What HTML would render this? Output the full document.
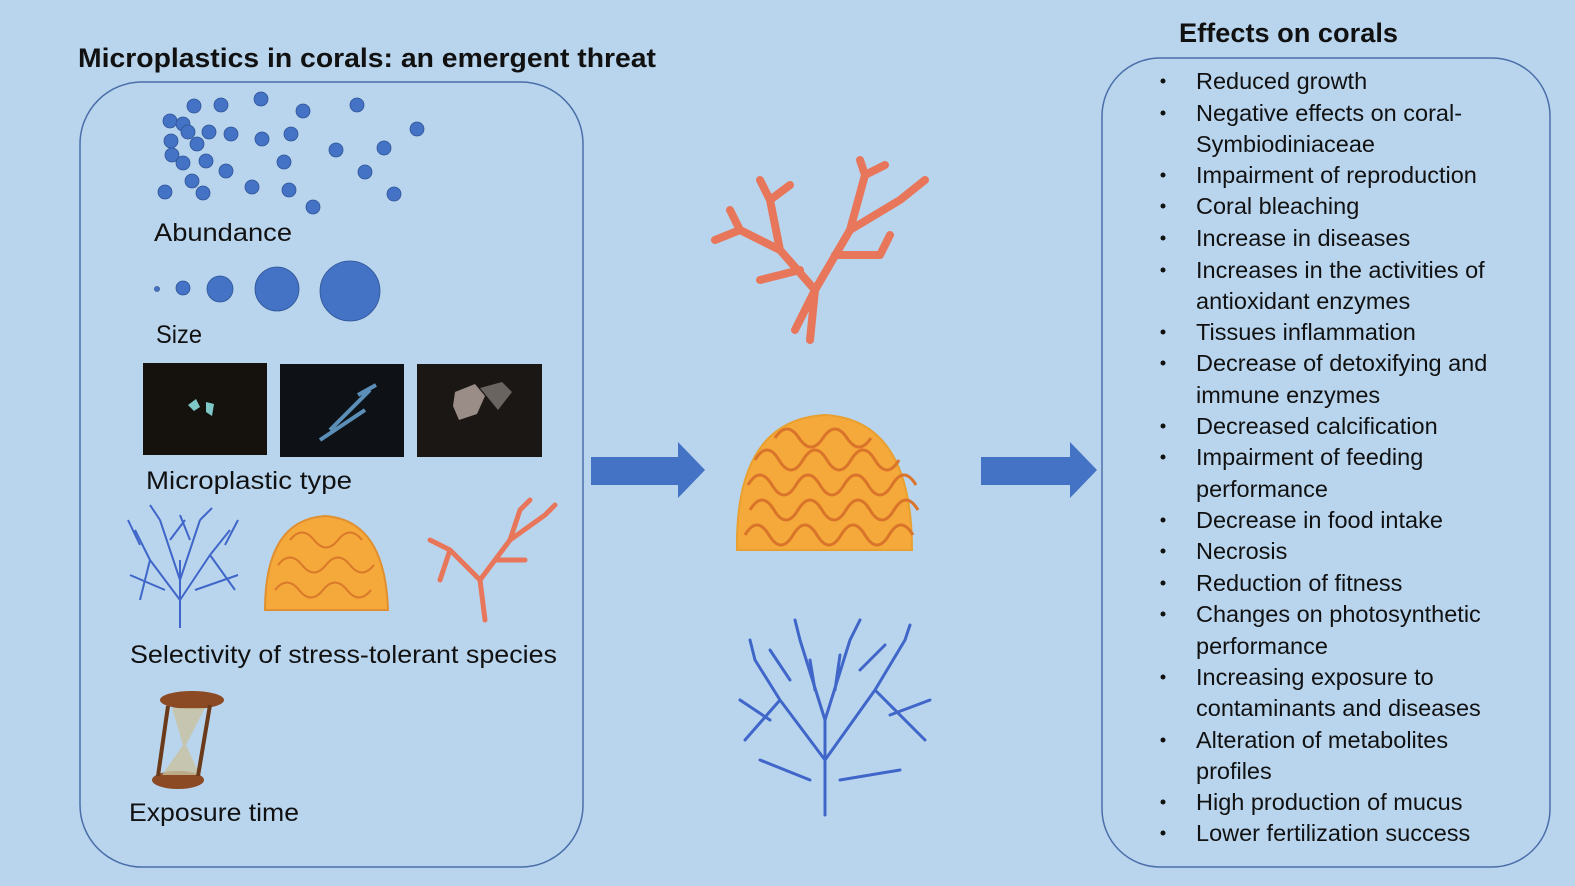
<!DOCTYPE html>
<html><head><meta charset="utf-8"><style>
body{margin:0;width:1575px;height:886px;overflow:hidden;background:#b9d5ee;font-family:"Liberation Sans",sans-serif}
svg{display:block}
text{font-family:"Liberation Sans",sans-serif;fill:#111}
</style></head><body>
<svg width="1575" height="886" viewBox="0 0 1575 886">
<rect width="1575" height="886" fill="#b9d5ee"/>
<text x="78" y="67" font-size="27" font-weight="bold" textLength="578" lengthAdjust="spacingAndGlyphs">Microplastics in corals: an emergent threat</text>
<text x="1179" y="42" font-size="27" font-weight="bold" textLength="219" lengthAdjust="spacingAndGlyphs">Effects on corals</text>
<rect x="80" y="82" width="503" height="785" rx="62" fill="none" stroke="#4a6ea8" stroke-width="1.5"/>
<rect x="1102" y="58" width="448" height="809" rx="58" fill="none" stroke="#4a6ea8" stroke-width="1.5"/>
<g fill="#4472c4" stroke="#2f5597" stroke-width="0.8">
<circle cx="194" cy="106" r="7"/><circle cx="221" cy="105" r="7"/><circle cx="261" cy="99" r="7"/><circle cx="303" cy="111" r="7"/><circle cx="357" cy="105" r="7"/><circle cx="170" cy="121" r="7"/><circle cx="183" cy="124" r="7"/><circle cx="188" cy="132" r="7"/><circle cx="209" cy="132" r="7"/><circle cx="231" cy="134" r="7"/><circle cx="262" cy="139" r="7"/><circle cx="291" cy="134" r="7"/><circle cx="417" cy="129" r="7"/><circle cx="171" cy="141" r="7"/><circle cx="197" cy="144" r="7"/><circle cx="336" cy="150" r="7"/><circle cx="384" cy="148" r="7"/><circle cx="172" cy="155" r="7"/><circle cx="183" cy="163" r="7"/><circle cx="206" cy="161" r="7"/><circle cx="284" cy="162" r="7"/><circle cx="365" cy="172" r="7"/><circle cx="226" cy="171" r="7"/><circle cx="192" cy="181" r="7"/><circle cx="252" cy="187" r="7"/><circle cx="289" cy="190" r="7"/><circle cx="165" cy="192" r="7"/><circle cx="203" cy="193" r="7"/><circle cx="313" cy="207" r="7"/><circle cx="394" cy="194" r="7"/>
<circle cx="157" cy="289" r="2.5"/><circle cx="183" cy="288" r="7"/><circle cx="220" cy="289" r="13"/><circle cx="277" cy="289" r="22"/><circle cx="350" cy="291" r="30"/>
</g>
<g font-size="25">
<text x="154" y="241" textLength="138" lengthAdjust="spacingAndGlyphs">Abundance</text>
<text x="156" y="343" textLength="46" lengthAdjust="spacingAndGlyphs">Size</text>
<text x="146" y="489" textLength="206" lengthAdjust="spacingAndGlyphs">Microplastic type</text>
<text x="130" y="663" textLength="427" lengthAdjust="spacingAndGlyphs">Selectivity of stress-tolerant species</text>
<text x="129" y="821" textLength="170" lengthAdjust="spacingAndGlyphs">Exposure time</text>
</g>
<rect x="143" y="363" width="124" height="92" fill="#15120e"/>
<rect x="280" y="364" width="124" height="93" fill="#0e1216"/>
<rect x="417" y="364" width="125" height="93" fill="#1a1714"/>
<path d="M188 405l8-6 4 8-6 4zM206 402l8 2-2 12-6-4z" fill="#7fc8c8"/>
<path d="M320 440l45-30M330 430l40-40M358 395l18-10" stroke="#5b8fb8" stroke-width="4" fill="none"/>
<path d="M455 392l20-8 10 12-8 18-18 6-6-14z" fill="#9a8c86"/>
<path d="M480 388l22-6 10 10-14 18z" fill="#6a6460"/>
<!-- small corals -->
<g stroke="#3f66c8" stroke-width="2" fill="none">
<path d="M180 628L180 560M180 600L150 560M180 600L210 555M180 580L160 520M180 580L200 520M150 560L135 530M150 560L140 600M210 555L230 530M210 555L235 590M160 520L150 505M200 520L212 508M165 590L130 575M195 590L238 575M170 540L185 520M190 540L180 515M140 545L128 520M225 545L238 520"/>
</g>
<path d="M265 610 Q265 520 325 516 Q385 520 388 610Z" fill="#f5a93a" stroke="#e09030" stroke-width="2"/>
<g stroke="#d97a2a" stroke-width="2" fill="none">
<path d="M275 590q12-15 24 0t24 0t24 0t24 0M278 565q12-15 24 0t24 0t24 0t24 0M290 540q12-15 24 0t24 0t24 0"/>
</g>
<g stroke="#e8765a" stroke-width="5" fill="none" stroke-linecap="round">
<path d="M485 620L480 580M480 580L450 550M480 580L510 540M510 540L520 510M510 540L545 515M450 550L430 540M450 550L440 580M520 510L530 500M495 560L525 560M545 515L555 505"/>
</g>
<!-- hourglass -->
<ellipse cx="192" cy="700" rx="32" ry="9" fill="#8b4a24"/>
<ellipse cx="178" cy="780" rx="26" ry="9" fill="#8b4a24"/>
<path d="M172 708 L205 708 L186 745 L200 775 L162 775 L183 745Z" fill="#c9c2a0" opacity="0.8"/>
<path d="M168 706L158 776M210 705L198 776" stroke="#6b3a1a" stroke-width="4"/>
<!-- arrows -->
<path d="M591 457H678V442L705 470L678 498V485H591Z" fill="#4472c4"/>
<path d="M981 457H1070V442L1097 470L1070 498V485H981Z" fill="#4472c4"/>
<!-- big corals -->
<g stroke="#e8765a" stroke-width="8" fill="none" stroke-linecap="round">
<path d="M810 340L815 290M815 290L780 250M815 290L850 230M850 230L865 175M850 230L900 200M900 200L925 180M780 250L740 230M780 250L770 200M770 200L760 180M740 230L715 240M865 175L860 160M815 290L795 330M835 255L880 255M880 255L890 235M800 270L760 280M865 175L885 165M770 200L790 185M740 230L730 210"/>
</g>
<path d="M737 550 Q735 420 825 415 Q912 420 912 550Z" fill="#f5a93a" stroke="#e8a030" stroke-width="2"/>
<g stroke="#d9742a" stroke-width="3" fill="none">
<path d="M745 535q12-20 24 0t24 0t24 0t24 0t24 0t24 0t24 0M750 510q12-20 24 0t24 0t24 0t24 0t24 0t24 0t24 0M748 485q12-20 24 0t24 0t24 0t24 0t24 0t24 0t24 0M755 460q12-20 24 0t24 0t24 0t24 0t24 0t24 0M775 438q12-18 24 0t24 0t24 0t24 0"/>
</g>
<g stroke="#3f66c8" stroke-width="3" fill="none" stroke-linecap="round">
<path d="M825 815L825 720M825 760L780 700M825 760L875 690M825 720L800 640M825 720L850 640M780 700L755 660M780 700L745 740M875 690L905 640M875 690L925 740M800 640L795 620M850 640L860 620M905 640L910 625M755 660L750 640M810 780L760 760M840 780L900 770M790 680L770 650M860 670L885 645M770 720L740 700M890 715L930 700M815 690L810 660M835 690L840 655"/>
</g>
<!-- list -->
<g font-size="23.5">
<g fill="#111">
<circle cx="1163" cy="81" r="2.5"/><circle cx="1163" cy="113" r="2.5"/><circle cx="1163" cy="175" r="2.5"/><circle cx="1163" cy="206" r="2.5"/><circle cx="1163" cy="238" r="2.5"/><circle cx="1163" cy="270" r="2.5"/><circle cx="1163" cy="332" r="2.5"/><circle cx="1163" cy="363" r="2.5"/><circle cx="1163" cy="426" r="2.5"/><circle cx="1163" cy="457" r="2.5"/><circle cx="1163" cy="520" r="2.5"/><circle cx="1163" cy="551" r="2.5"/><circle cx="1163" cy="583" r="2.5"/><circle cx="1163" cy="614" r="2.5"/><circle cx="1163" cy="677" r="2.5"/><circle cx="1163" cy="740" r="2.5"/><circle cx="1163" cy="802" r="2.5"/><circle cx="1163" cy="833" r="2.5"/>
</g>
<text x="1196" y="89">Reduced growth</text>
<text x="1196" y="121">Negative effects on coral-</text>
<text x="1196" y="152">Symbiodiniaceae</text>
<text x="1196" y="183">Impairment of reproduction</text>
<text x="1196" y="214">Coral bleaching</text>
<text x="1196" y="246">Increase in diseases</text>
<text x="1196" y="278">Increases in the activities of</text>
<text x="1196" y="309">antioxidant enzymes</text>
<text x="1196" y="340">Tissues inflammation</text>
<text x="1196" y="371">Decrease of detoxifying and</text>
<text x="1196" y="403">immune enzymes</text>
<text x="1196" y="434">Decreased calcification</text>
<text x="1196" y="465">Impairment of feeding</text>
<text x="1196" y="497">performance</text>
<text x="1196" y="528">Decrease in food intake</text>
<text x="1196" y="559">Necrosis</text>
<text x="1196" y="591">Reduction of fitness</text>
<text x="1196" y="622">Changes on photosynthetic</text>
<text x="1196" y="654">performance</text>
<text x="1196" y="685">Increasing exposure to</text>
<text x="1196" y="716">contaminants and diseases</text>
<text x="1196" y="748">Alteration of metabolites</text>
<text x="1196" y="779">profiles</text>
<text x="1196" y="810">High production of mucus</text>
<text x="1196" y="841">Lower fertilization success</text>
</g>
</svg>
</body></html>
